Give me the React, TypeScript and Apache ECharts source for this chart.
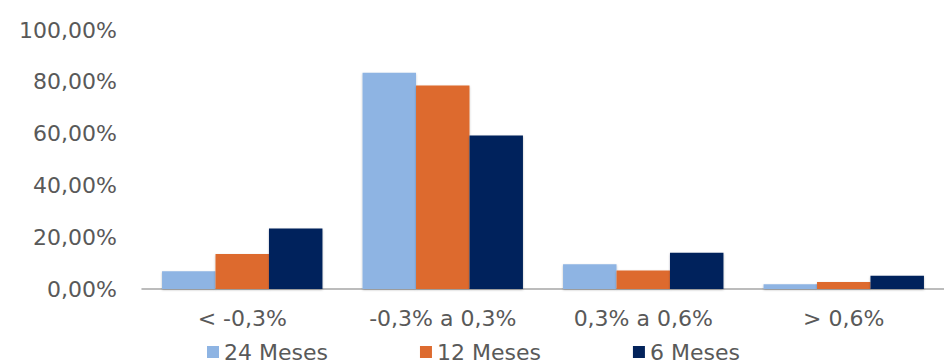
import React, { useEffect, useRef } from "react";
import * as echarts from "echarts";

const categories = ["< -0,3%", "-0,3% a 0,3%", "0,3% a 0,6%", "> 0,6%"];
const seriesNames = ["24 Meses", "12 Meses", "6 Meses"];
const meses24 = [6.9, 83.5, 9.6, 1.8];
const meses12 = [13.5, 78.6, 7.1, 2.7];
const meses6 = [23.4, 59.3, 14.0, 5.1];
const yTicks = { min: 0, max: 100, interval: 20 };

const colors = ["#8EB4E3", "#DD6B2F", "#03235B"];
const FONT = "DejaVu Sans";
const TEXT = "#595959";

export default function App() {
  const ref = useRef<HTMLDivElement>(null);
  useEffect(() => {
    if (!ref.current) return;
    const chart = echarts.init(ref.current, null, { renderer: "svg" });
    const data = [meses24, meses12, meses6];
    chart.setOption({
      animation: false,
      backgroundColor: "#ffffff",
      textStyle: { fontFamily: FONT },
      grid: { left: 142, top: 30, width: 816, height: 259 },
      legend: {
        left: 207,
        top: 341,
        padding: 0,
        itemWidth: 12,
        itemHeight: 12,
        itemGap: 92,
        icon: "rect",
        textStyle: { fontFamily: FONT, fontSize: 22, color: TEXT, lineHeight: 22 },
        data: seriesNames,
      },
      xAxis: {
        type: "category",
        data: categories,
        axisTick: { show: false },
        axisLine: { lineStyle: { color: "#A6A6A6", width: 1.5 } },
        axisLabel: { fontFamily: FONT, fontSize: 22, color: TEXT, margin: 18 },
      },
      yAxis: {
        type: "value",
        min: yTicks.min,
        max: yTicks.max,
        interval: yTicks.interval,
        splitLine: { show: false },
        axisLine: { show: false },
        axisTick: { show: false },
        axisLabel: {
          fontFamily: FONT,
          fontSize: 22,
          color: TEXT,
          margin: 25,
          formatter: (v: number) => v.toFixed(2).replace(".", ",") + "%",
        },
      },
      series: seriesNames.map((name, i) => ({
        name,
        type: "bar",
        data: data[i],
        barGap: "0%",
        barCategoryGap: "20%",
        itemStyle: {
          color: colors[i],
          shadowColor: "rgba(0,0,0,0.25)",
          shadowBlur: 2,
          shadowOffsetY: 1,
        },
      })),
    });
    return () => chart.dispose();
  }, []);
  return (
    <div
      ref={ref}
      style={{ position: "fixed", left: 0, top: 0, width: 944, height: 364 }}
    />
  );
}
